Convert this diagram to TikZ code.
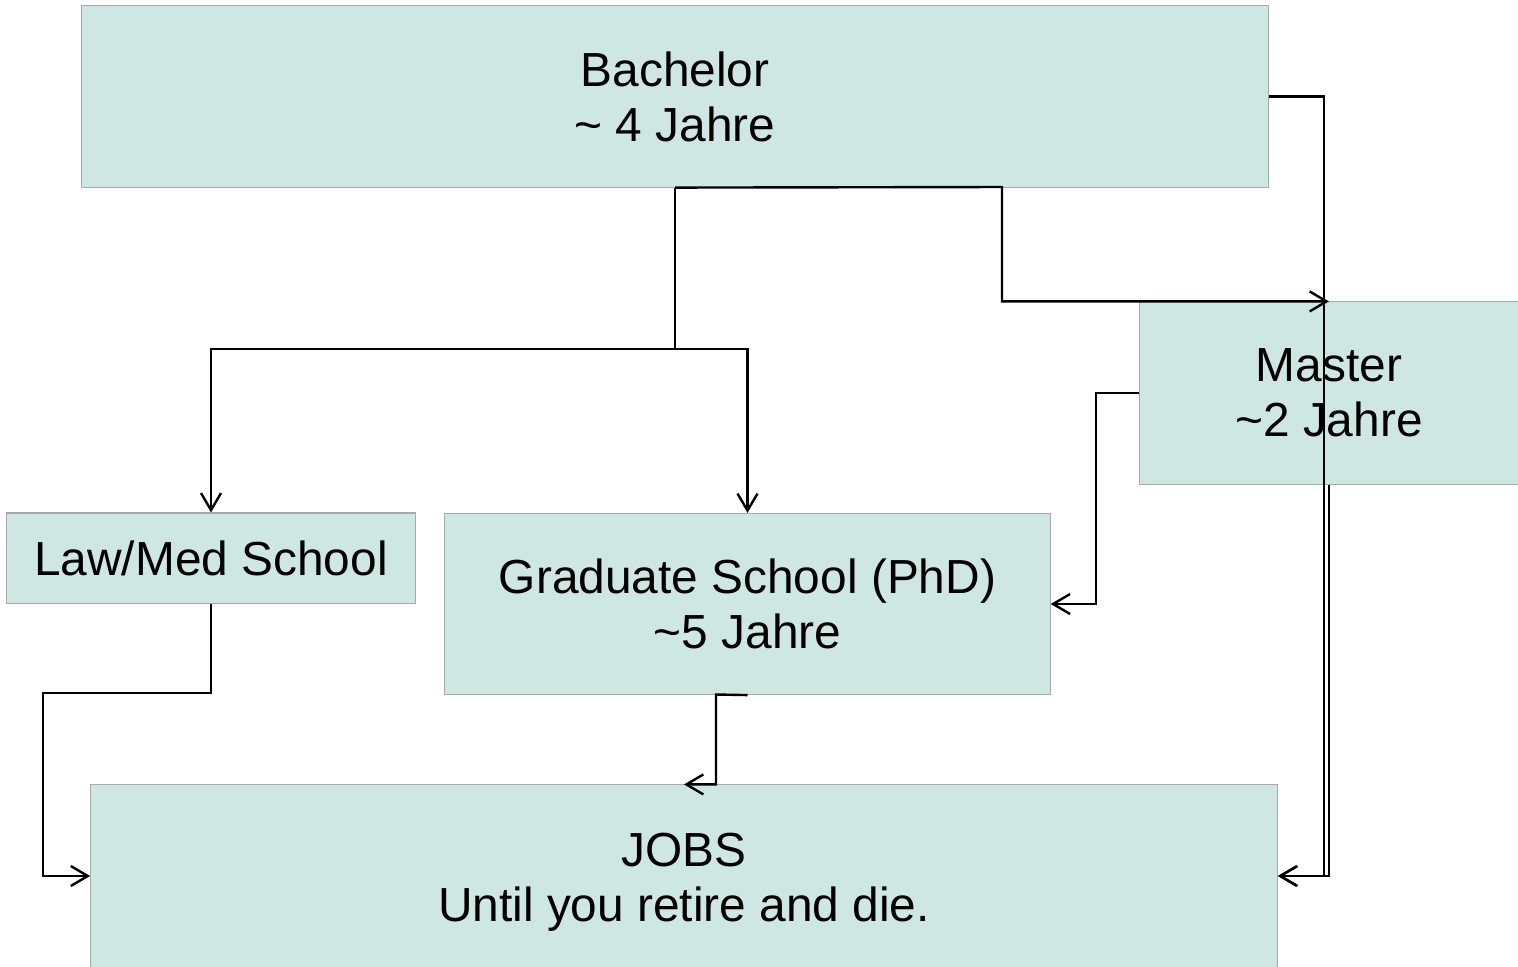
\documentclass[tikz,border=0pt]{standalone}
\usepackage{fontspec}
\setmainfont{Liberation Sans}
\usetikzlibrary{arrows.meta}
\definecolor{boxfill}{RGB}{207,231,227}
\definecolor{boxline}{RGB}{165,170,170}
\tikzset{
  stage/.style={draw=boxline, line width=0.3pt, fill=boxfill, inner sep=0pt,
    align=center, font=\fontsize{13.6pt}{15.6pt}\selectfont},
  conn/.style={draw=black, line width=0.024cm, line join=miter,
    arrows={-Straight Barb[length=0.17cm, width=0.2cm]}}
}
\begin{document}
\begin{tikzpicture}[x={(0.01cm,0)}, y={(0,-0.01cm)}]
  \useasboundingbox (0,0) rectangle (1518,966);
  % the five stages
  \node[stage, minimum width=11.86cm, minimum height=1.81cm] (bach) at (675,96.5) {Bachelor\\\textasciitilde{} 4 Jahre};
  \node[stage, minimum width=3.78cm, minimum height=1.82cm] (mast) at (1329,393) {Master\\\textasciitilde2 Jahre};
  \node[stage, minimum width=4.08cm, minimum height=0.90cm] (law) at (211,558) {Law/Med School};
  \node[stage, minimum width=6.05cm, minimum height=1.81cm] (grad) at (747.5,604) {Graduate School (PhD)\\\textasciitilde5 Jahre};
  \node[stage, minimum width=11.86cm, minimum height=1.95cm] (jobs) at (684,882.5) {JOBS\\Until you retire and die.};
  % elbow connectors
  \draw[conn] (bach.east) -- (1324,96.5) |- ([yshift=0.065cm]jobs.east);
  \draw[conn] (mast.south) |- ([yshift=0.065cm]jobs.east);
  \draw[conn] (bach.south) -- (1002,187) |- (mast.north);
  \draw[conn] (bach.south) -- (675,349) -| (law.north);
  \draw[conn] (675,349) -| (grad.north);
  \draw[conn] (mast.west) -- (1096,393) |- (grad.east);
  \draw[conn] (law.south) |- (43,693) |- ([yshift=0.065cm]jobs.west);
  \draw[conn] (grad.south) -- (716,694.5) |- (jobs.north);
\end{tikzpicture}
\end{document}
